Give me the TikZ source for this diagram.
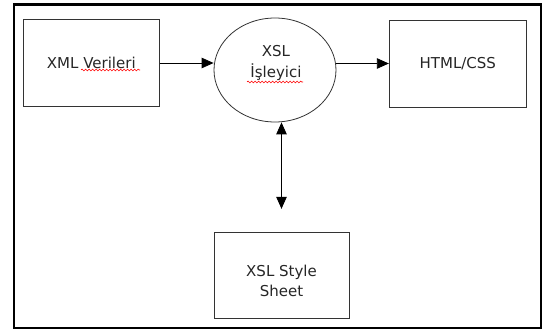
\documentclass[tikz,border=0pt]{standalone}
\usepackage{fontspec}
\setmainfont{DejaVu Sans}
\usetikzlibrary{arrows.meta,shapes.geometric,decorations.pathmorphing}
\begin{document}
\begin{tikzpicture}[x=1pt,y=-1pt,
  lbl/.style={font=\fontsize{15}{20.5}\selectfont, text=black!85, align=center, inner sep=0pt},
  box/.style={draw=black!80, line width=0.9pt, rectangle, minimum height=87pt, inner sep=0pt, lbl},
  proc/.style={draw=black!80, line width=0.8pt, ellipse, minimum width=122pt, minimum height=104pt, inner sep=0pt},
  flow/.style={draw=black, line width=0.8pt, -{Triangle[length=12pt,width=10.5pt]}},
  both/.style={flow, {Triangle[length=12pt,width=10.5pt]}-{Triangle[length=12pt,width=10.5pt]}},
  spell/.style={draw=red, line width=0.6pt, decorate, decoration={snake, amplitude=0.9pt, segment length=3.5pt}}
]
\useasboundingbox (0,0) rectangle (542,329);
% frame round the whole figure
\draw[line width=2.2pt] (13.8,4.5) rectangle (540.8,327.6);

% boxes and the processor
\node[box, minimum width=135.5pt] (xml) at (91.3,63) {XML Verileri};
\node[box, minimum width=137pt] (html) at (457.8,63.5) {HTML/CSS};
\node[proc] (ell) at (275,70) {};
\node[lbl] (elltxt) at (276,63) {XSL\\İşleyici};
\node[box, minimum width=135pt, minimum height=86pt] (sheet) at (281.5,275.3) {};
\node[lbl] (sheettxt) at (281.5,281) {XSL Style\\Sheet};

% connectors
\draw[flow] (xml.east) -- (xml.east -| ell.west);
\draw[flow] (ell.east |- html.west) -- (html.west);
\coordinate (up) at (ell.south -| sheet.north);
\coordinate (down) at ([yshift=23pt]sheet.north);
\draw[both] (up) -- (down);

% spell-check underlines
\draw[spell] (81,70) -- (140,70);
\draw[spell] (247,82) -- (303,82);
\end{tikzpicture}
\end{document}
